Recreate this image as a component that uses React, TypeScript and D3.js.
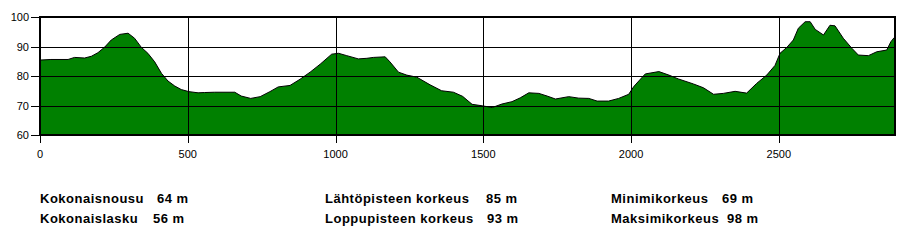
import React from "react";
import * as d3 from "d3";

const distances = [0, 37, 95, 117, 151, 174, 196, 219, 241, 270, 298, 320, 343, 365, 388, 411, 433, 456, 478, 504, 535, 557, 591, 659, 681, 713, 745, 778, 806, 846, 880, 914, 948, 987, 1010, 1038, 1077, 1106, 1128, 1168, 1184, 1213, 1241, 1275, 1320, 1359, 1399, 1430, 1462, 1496, 1530, 1563, 1597, 1625, 1654, 1688, 1716, 1744, 1789, 1823, 1857, 1885, 1924, 1958, 1992, 2009, 2026, 2048, 2094, 2128, 2160, 2211, 2245, 2279, 2312, 2352, 2391, 2425, 2459, 2487, 2504, 2527, 2549, 2566, 2589, 2606, 2623, 2651, 2673, 2690, 2718, 2747, 2769, 2803, 2831, 2865, 2879, 2890];
const elevations = [85.4, 85.6, 85.6, 86.3, 86.1, 86.7, 87.9, 89.8, 92.2, 94.1, 94.5, 92.8, 89.7, 87.7, 84.8, 80.9, 78.3, 76.6, 75.4, 74.7, 74.3, 74.4, 74.5, 74.5, 73.2, 72.4, 73.0, 74.7, 76.3, 76.8, 78.9, 81.3, 84.0, 87.4, 87.7, 86.9, 85.8, 86.0, 86.3, 86.5, 84.8, 81.3, 80.3, 79.6, 77.0, 75.0, 74.5, 73.1, 70.4, 69.9, 69.3, 70.5, 71.3, 72.6, 74.3, 74.1, 73.2, 72.2, 73.0, 72.5, 72.4, 71.5, 71.5, 72.4, 73.8, 76.4, 78.3, 80.7, 81.5, 80.3, 79.0, 77.3, 76.0, 73.8, 74.1, 74.8, 74.2, 77.5, 80.3, 83.6, 87.7, 89.7, 92.2, 96.2, 98.4, 98.4, 95.8, 93.9, 97.2, 97.0, 92.8, 89.4, 87.1, 86.9, 88.2, 88.8, 91.6, 93.0];

const xTicks = [0, 500, 1000, 1500, 2000, 2500];
const yTicks = [60, 70, 80, 90, 100];

const statLabels = [
  ["Kokonaisnousu", "Kokonaislasku"],
  ["Lähtöpisteen korkeus", "Loppupisteen korkeus"],
  ["Minimikorkeus", "Maksimikorkeus"],
];
const statValues = [
  ["64 m", "56 m"],
  ["85 m", "93 m"],
  ["69 m", "98 m"],
];

export default function App() {
  const W = 900, H = 250;
  const left = 40, right = 895, top = 17, bottom = 135;
  const x = d3.scaleLinear().domain([0, 2893]).range([left, right]);
  const y = d3.scaleLinear().domain([60, 100]).range([bottom, top]);
  const pts = distances.map((d, i) => [d, elevations[i]] as [number, number]);
  const area = d3.area<[number, number]>().x(d => x(d[0])).y0(bottom).y1(d => y(d[1]))(pts) || "";
  const line = d3.line<[number, number]>().x(d => x(d[0])).y(d => y(d[1]))(pts) || "";

  const colLabelX = [40, 325, 611];
  const colValueX = [[157, 153], [486, 487], [722, 727]];
  const rowY = [203, 223];
  const font = "'Liberation Sans', Arial, sans-serif";

  return (
    <svg width={W} height={H} style={{ position: "absolute", left: 0, top: 0, background: "#fff" }} fontFamily={font}>
      <rect x={0} y={0} width={W} height={H} fill="#fff" />
      <path d={area} fill="#008000" />
      <path d={line} fill="none" stroke="#000" strokeWidth={1} />
      {yTicks.filter(t => t > 60 && t < 100).map(t => (
        <line key={"gy" + t} x1={left} x2={right} y1={Math.round(y(t)) + 0.5} y2={Math.round(y(t)) + 0.5} stroke="#000" strokeWidth={1} />
      ))}
      {xTicks.filter(t => t > 0).map(t => (
        <line key={"gx" + t} x1={Math.round(x(t)) + 0.5} x2={Math.round(x(t)) + 0.5} y1={top} y2={bottom} stroke="#000" strokeWidth={1} />
      ))}
      <rect x={left} y={top} width={right - left} height={bottom - top} fill="none" stroke="#000" strokeWidth={2} />
      {yTicks.map(t => (
        <g key={"yt" + t}>
          <line x1={31} x2={left} y1={Math.round(y(t)) + 0.5} y2={Math.round(y(t)) + 0.5} stroke="#000" strokeWidth={1} />
          <text x={29} y={y(t) + 4} textAnchor="end" fontSize={11} fill="#000">{t}</text>
        </g>
      ))}
      {xTicks.map(t => (
        <g key={"xt" + t}>
          <line x1={Math.round(x(t)) + 0.5} x2={Math.round(x(t)) + 0.5} y1={bottom} y2={143} stroke="#000" strokeWidth={1} />
          <text x={x(t)} y={158} textAnchor="middle" fontSize={11} fill="#000">{t}</text>
        </g>
      ))}
      {statLabels.map((col, ci) =>
        col.map((lab, ri) => (
          <g key={"s" + ci + ri}>
            <text x={colLabelX[ci]} y={rowY[ri]} fontSize={13} fontWeight="bold" letterSpacing={0.5} fill="#000">{lab}</text>
            <text x={colValueX[ci][ri]} y={rowY[ri]} fontSize={13} fontWeight="bold" letterSpacing={0.5} fill="#000">{statValues[ci][ri]}</text>
          </g>
        ))
      )}
    </svg>
  );
}
